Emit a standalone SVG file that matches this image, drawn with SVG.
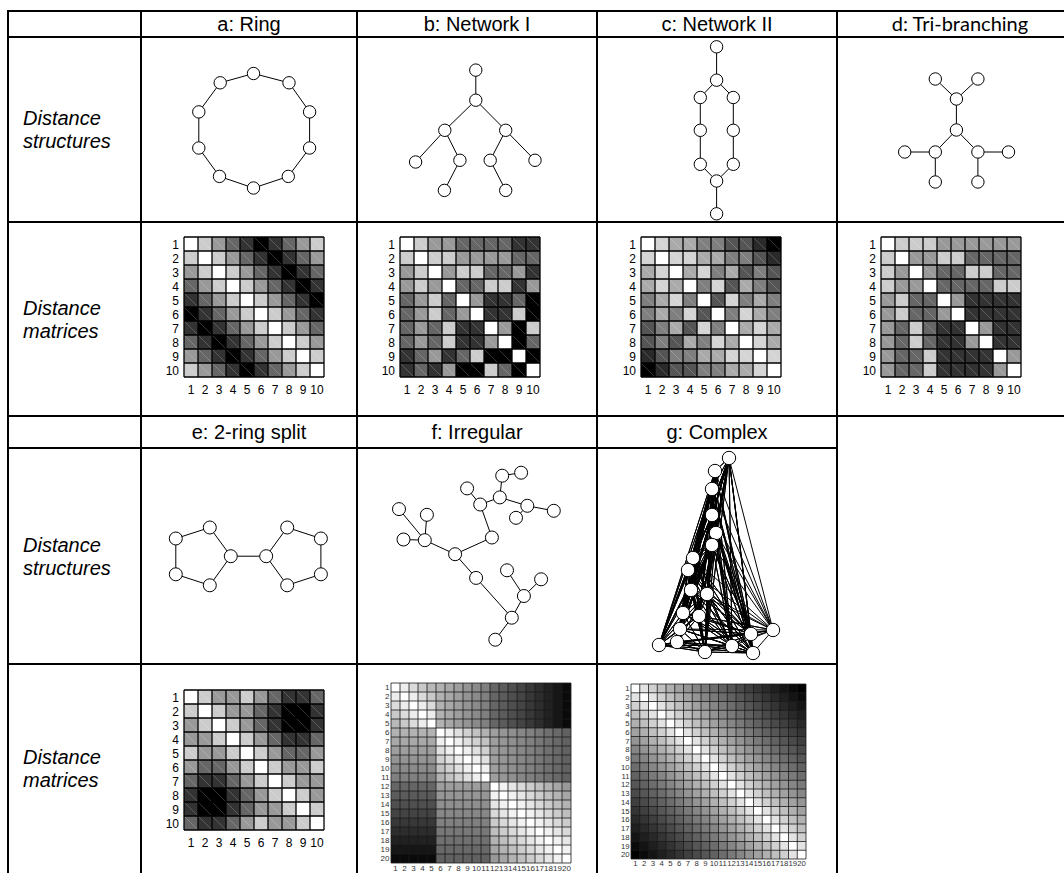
<svg xmlns="http://www.w3.org/2000/svg" xmlns:xlink="http://www.w3.org/1999/xlink" width="1064" height="873" viewBox="0 0 1064 873">
<style>
.t{font-family:"Liberation Sans",Arial,sans-serif}
.hd{font-size:20px;text-anchor:middle}
.cal{font-family:Lato,"Liberation Sans",sans-serif;font-size:20px;text-anchor:middle}
.rl{font-size:20px;font-style:italic}
.ml{font-size:12px}
.ms{font-size:8px;fill:#333}
.ln{stroke:#000;stroke-width:2;fill:none}
.ed{stroke:#000;stroke-width:1;fill:none;stroke-linejoin:round}
.nd{fill:#fff;stroke:#000;stroke-width:1}
</style>
<defs>
<path id="grid10" vector-effect="non-scaling-stroke" d="M0 0H10M0 1H10M0 2H10M0 3H10M0 4H10M0 5H10M0 6H10M0 7H10M0 8H10M0 9H10M0 10H10M0 0V10M1 0V10M2 0V10M3 0V10M4 0V10M5 0V10M6 0V10M7 0V10M8 0V10M9 0V10M10 0V10"/>
<path id="seam10" vector-effect="non-scaling-stroke" d="M1 0L10 9M2 0L10 8M3 0L10 7M4 0L10 6M5 0L10 5M6 0L10 4M7 0L10 3M8 0L10 2M9 0L10 1M0 1L9 10M0 2L8 10M0 3L7 10M0 4L6 10M0 5L5 10M0 6L4 10M0 7L3 10M0 8L2 10M0 9L1 10"/>
<path id="grid20" vector-effect="non-scaling-stroke" d="M0 0H20M0 1H20M0 2H20M0 3H20M0 4H20M0 5H20M0 6H20M0 7H20M0 8H20M0 9H20M0 10H20M0 11H20M0 12H20M0 13H20M0 14H20M0 15H20M0 16H20M0 17H20M0 18H20M0 19H20M0 20H20M0 0V20M1 0V20M2 0V20M3 0V20M4 0V20M5 0V20M6 0V20M7 0V20M8 0V20M9 0V20M10 0V20M11 0V20M12 0V20M13 0V20M14 0V20M15 0V20M16 0V20M17 0V20M18 0V20M19 0V20M20 0V20"/>
<path id="st" d="M0 0H20V20h-1v-1h-1v-1h-1v-1h-1v-1h-1v-1h-1v-1h-1v-1h-1v-1h-1v-1h-1v-1h-1v-1h-1v-1h-1v-1h-1v-1h-1v-1h-1v-1h-1v-1h-1v-1h-1v-1h-1v-1z"/>
<clipPath id="cA"><rect width="5" height="5"/></clipPath>
<clipPath id="cB"><rect x="5" y="5" width="6" height="6"/></clipPath>
<clipPath id="cC"><rect x="11" y="11" width="9" height="9"/></clipPath>
<clipPath id="cG"><rect width="20" height="20"/></clipPath>
<g id="lab10" class="t ml">
<text text-anchor="end"><tspan x="-5" y="11.5">1</tspan><tspan x="-5" y="25.5">2</tspan><tspan x="-5" y="39.5">3</tspan><tspan x="-5" y="53.5">4</tspan><tspan x="-5" y="67.5">5</tspan><tspan x="-5" y="81.5">6</tspan><tspan x="-5" y="95.5">7</tspan><tspan x="-5" y="109.5">8</tspan><tspan x="-5" y="123.5">9</tspan><tspan x="-5" y="137.5">10</tspan></text>
<text text-anchor="middle" y="157"><tspan x="7">1</tspan><tspan x="21">2</tspan><tspan x="35">3</tspan><tspan x="49">4</tspan><tspan x="63">5</tspan><tspan x="77">6</tspan><tspan x="91">7</tspan><tspan x="105">8</tspan><tspan x="119">9</tspan><tspan x="133">10</tspan></text>
</g>
<g id="lab20" class="t ms">
<text text-anchor="end"><tspan x="-1.5" y="7.4">1</tspan><tspan x="-1.5" y="16.4">2</tspan><tspan x="-1.5" y="25.4">3</tspan><tspan x="-1.5" y="34.4">4</tspan><tspan x="-1.5" y="43.4">5</tspan><tspan x="-1.5" y="52.4">6</tspan><tspan x="-1.5" y="61.4">7</tspan><tspan x="-1.5" y="70.4">8</tspan><tspan x="-1.5" y="79.4">9</tspan><tspan x="-1.5" y="88.4">10</tspan><tspan x="-1.5" y="97.4">11</tspan><tspan x="-1.5" y="106.4">12</tspan><tspan x="-1.5" y="115.4">13</tspan><tspan x="-1.5" y="124.4">14</tspan><tspan x="-1.5" y="133.4">15</tspan><tspan x="-1.5" y="142.4">16</tspan><tspan x="-1.5" y="151.4">17</tspan><tspan x="-1.5" y="160.4">18</tspan><tspan x="-1.5" y="169.4">19</tspan><tspan x="-1.5" y="178.4">20</tspan></text>
<text text-anchor="middle" y="187.5"><tspan x="4.5">1</tspan><tspan x="13.5">2</tspan><tspan x="22.5">3</tspan><tspan x="31.5">4</tspan><tspan x="40.5">5</tspan><tspan x="49.5">6</tspan><tspan x="58.5">7</tspan><tspan x="67.5">8</tspan><tspan x="76.5">9</tspan><tspan x="85.5">10</tspan><tspan x="94.5">11</tspan><tspan x="103.5">12</tspan><tspan x="112.5">13</tspan><tspan x="121.5">14</tspan><tspan x="130.5">15</tspan><tspan x="139.5">16</tspan><tspan x="148.5">17</tspan><tspan x="157.5">18</tspan><tspan x="166.5">19</tspan><tspan x="175.5">20</tspan></text>
</g>
</defs>
<rect width="1064" height="873" fill="#fff"/>
<g id="table">
<path class="ln" d="M8 11H1070M8 37H1070M8 222H1070M8 416H1070M8 448H837M8 664H837M8 10V873M141 11V873M357 11V873M597 11V873M837 11V873"/>
</g>
<g id="headers" class="t">
<text class="hd" x="249" y="31">a: Ring</text>
<text class="hd" x="477" y="31">b: Network I</text>
<text class="hd" x="717" y="31">c: Network II</text>
<text class="cal" x="960" y="31">d: Tri-branching</text>
<text class="hd" x="249" y="439">e: 2-ring split</text>
<text class="hd" x="477" y="439">f: Irregular</text>
<text class="hd" x="717" y="439">g: Complex</text>
</g>
<g id="rowlabels" class="t rl">
<text><tspan x="23" y="125">Distance</tspan><tspan x="23" y="148">structures</tspan></text>
<text><tspan x="23" y="315">Distance</tspan><tspan x="23" y="338">matrices</tspan></text>
<text><tspan x="23" y="552">Distance</tspan><tspan x="23" y="575">structures</tspan></text>
<text><tspan x="23" y="764">Distance</tspan><tspan x="23" y="787">matrices</tspan></text>
</g>
<g id="struct-a">
<g class="connectors"><path class="ed" d="M253.5 73.5L289 82.8L309.6 111.9L309.6 148L288.3 176.4L253.5 188L219.5 176.4L198.8 148L198.8 111.9L220.2 82.8Z"/></g>
<g class="nd"><circle cx="253.5" cy="73.5" r="6.2"/><circle cx="289" cy="82.8" r="6.2"/><circle cx="309.6" cy="111.9" r="6.2"/><circle cx="309.6" cy="148" r="6.2"/><circle cx="288.3" cy="176.4" r="6.2"/><circle cx="253.5" cy="188" r="6.2"/><circle cx="219.5" cy="176.4" r="6.2"/><circle cx="198.8" cy="148" r="6.2"/><circle cx="198.8" cy="111.9" r="6.2"/><circle cx="220.2" cy="82.8" r="6.2"/></g>
</g>
<g id="struct-b">
<g class="connectors"><path class="ed" d="M475.8 70.1L475.8 100.2M475.8 100.2L444.8 130.3M475.8 100.2L505.7 130.3M444.8 130.3L415.6 162M444.8 130.3L459.9 160.3L444.4 190.4M505.7 130.3L490.2 160.3L505.7 190.4M505.7 130.3L535 160.3"/></g>
<g class="nd"><circle cx="475.8" cy="70.1" r="6.2"/><circle cx="475.8" cy="100.2" r="6.2"/><circle cx="444.8" cy="130.3" r="6.2"/><circle cx="505.7" cy="130.3" r="6.2"/><circle cx="415.6" cy="162" r="6.2"/><circle cx="459.9" cy="160.3" r="6.2"/><circle cx="444.4" cy="190.4" r="6.2"/><circle cx="490.2" cy="160.3" r="6.2"/><circle cx="505.7" cy="190.4" r="6.2"/><circle cx="535" cy="160.3" r="6.2"/></g>
</g>
<g id="struct-c">
<g class="connectors"><path class="ed" d="M716.6 46.8L716.6 80.2L700.3 97.5L700.3 130.3L700.3 164.3L716.6 181L733.3 164.3L733.3 130.3L733.3 97.5L716.6 80.2M716.6 181L716.6 213.8"/></g>
<g class="nd"><circle cx="716.6" cy="46.8" r="6.2"/><circle cx="716.6" cy="80.2" r="6.2"/><circle cx="700.3" cy="97.5" r="6.2"/><circle cx="733.3" cy="97.5" r="6.2"/><circle cx="700.3" cy="130.3" r="6.2"/><circle cx="733.3" cy="130.3" r="6.2"/><circle cx="700.3" cy="164.3" r="6.2"/><circle cx="733.3" cy="164.3" r="6.2"/><circle cx="716.6" cy="181" r="6.2"/><circle cx="716.6" cy="213.8" r="6.2"/></g>
</g>
<g id="struct-d">
<g class="connectors"><path class="ed" d="M935.3 79L956.4 99L977.9 79M956.4 99L956.4 130L935.3 152L904.7 152M935.3 152L935.3 182M956.4 130L977.9 152L1008.5 152M977.9 152L977.9 182"/></g>
<g class="nd"><circle cx="935.3" cy="79" r="6.2"/><circle cx="977.9" cy="79" r="6.2"/><circle cx="956.4" cy="99" r="6.2"/><circle cx="956.4" cy="130" r="6.2"/><circle cx="935.3" cy="152" r="6.2"/><circle cx="977.9" cy="152" r="6.2"/><circle cx="904.7" cy="152" r="6.2"/><circle cx="1008.5" cy="152" r="6.2"/><circle cx="935.3" cy="182" r="6.2"/><circle cx="977.9" cy="182" r="6.2"/></g>
</g>
<g id="struct-e">
<g class="connectors"><path class="ed" d="M175.8 538.5L209.8 527.5L230.8 556.2L209.8 585.3L175.8 574.3ZM230.8 556.2L266.2 556.2M266.2 556.2L287.2 527.5L320.9 538.5L320.9 574.3L287.2 585.3Z"/></g>
<g class="nd"><circle cx="175.8" cy="538.5" r="6.5"/><circle cx="209.8" cy="527.5" r="6.5"/><circle cx="230.8" cy="556.2" r="6.5"/><circle cx="175.8" cy="574.3" r="6.5"/><circle cx="209.8" cy="585.3" r="6.5"/><circle cx="266.2" cy="556.2" r="6.5"/><circle cx="287.2" cy="527.5" r="6.5"/><circle cx="320.9" cy="538.5" r="6.5"/><circle cx="320.9" cy="574.3" r="6.5"/><circle cx="287.2" cy="585.3" r="6.5"/></g>
</g>
<g id="struct-f">
<g class="connectors"><path class="ed" d="M399 509.1L424.8 540.2M426.9 514.8L424.8 540.2M403.5 539.5L424.8 540.2L455.1 554.2L491.9 537.5L480.2 504.5L467.1 488.4M480.2 504.5L499.8 497.4L502.2 475.7L521.1 472.7M499.8 497.4L527.3 505.8L553.8 510.8M527.3 505.8L516 517.8M455.1 554.2L476.1 577.9L511.8 617.7L495.3 639.7M511.8 617.7L523.9 596L507 570.3M523.9 596L541.1 579.3"/></g>
<g class="nd"><circle cx="399" cy="509.1" r="6.5"/><circle cx="426.9" cy="514.8" r="6.5"/><circle cx="403.5" cy="539.5" r="6.5"/><circle cx="424.8" cy="540.2" r="6.5"/><circle cx="455.1" cy="554.2" r="6.5"/><circle cx="491.9" cy="537.5" r="6.5"/><circle cx="480.2" cy="504.5" r="6.5"/><circle cx="467.1" cy="488.4" r="6.5"/><circle cx="499.8" cy="497.4" r="6.5"/><circle cx="502.2" cy="475.7" r="6.5"/><circle cx="521.1" cy="472.7" r="6.5"/><circle cx="527.3" cy="505.8" r="6.5"/><circle cx="553.8" cy="510.8" r="6.5"/><circle cx="516" cy="517.8" r="6.5"/><circle cx="476.1" cy="577.9" r="6.5"/><circle cx="511.8" cy="617.7" r="6.5"/><circle cx="495.3" cy="639.7" r="6.5"/><circle cx="523.9" cy="596" r="6.5"/><circle cx="507" cy="570.3" r="6.5"/><circle cx="541.1" cy="579.3" r="6.5"/></g>
</g>
<g id="struct-g">
<g class="connectors"><path class="ed" d="M729 458L715 471L729 458L712 489L729 458L712 515L729 458L716 533L729 458L712 545L729 458L693 558L729 458L688 570L729 458L691 590L729 458L707 594L729 458L683 613L729 458L699 616L729 458L680 629L729 458L659 645L729 458L677 642L729 458L705 652L729 458L732 646L729 458L753 653L729 458L751 634L729 458L773 630M715 471L712 489L715 471L712 515L715 471L716 533L715 471L712 545L715 471L693 558L715 471L688 570L715 471L691 590L715 471L707 594L715 471L683 613L715 471L699 616L715 471L680 629L715 471L659 645L715 471L677 642L715 471L705 652L715 471L732 646L715 471L753 653L715 471L751 634L715 471L773 630M712 489L712 515L712 489L716 533L712 489L712 545L712 489L693 558L712 489L688 570L712 489L691 590L712 489L707 594L712 489L683 613L712 489L699 616L712 489L680 629L712 489L659 645L712 489L677 642L712 489L705 652L712 489L732 646L712 489L753 653L712 489L751 634L712 489L773 630M712 515L716 533L712 515L712 545L712 515L693 558L712 515L688 570L712 515L691 590L712 515L707 594L712 515L683 613L712 515L699 616L712 515L680 629L712 515L659 645L712 515L677 642L712 515L705 652L712 515L732 646L712 515L753 653L712 515L751 634L712 515L773 630M716 533L712 545L716 533L693 558L716 533L688 570L716 533L691 590L716 533L707 594L716 533L683 613L716 533L699 616L716 533L680 629L716 533L659 645L716 533L677 642L716 533L705 652L716 533L732 646L716 533L753 653L716 533L751 634L716 533L773 630M712 545L693 558L712 545L688 570L712 545L691 590L712 545L707 594L712 545L683 613L712 545L699 616L712 545L680 629L712 545L659 645L712 545L677 642L712 545L705 652L712 545L732 646L712 545L753 653L712 545L751 634L712 545L773 630M693 558L688 570L693 558L691 590L693 558L707 594L693 558L683 613L693 558L699 616L693 558L680 629L693 558L659 645L693 558L677 642L693 558L705 652L693 558L732 646L693 558L753 653L693 558L751 634L693 558L773 630M688 570L691 590L688 570L707 594L688 570L683 613L688 570L699 616L688 570L680 629L688 570L659 645L688 570L677 642L688 570L705 652L688 570L732 646L688 570L753 653L688 570L751 634L688 570L773 630M691 590L707 594L691 590L683 613L691 590L699 616L691 590L680 629L691 590L659 645L691 590L677 642L691 590L705 652L691 590L732 646L691 590L753 653L691 590L751 634L691 590L773 630M707 594L683 613L707 594L699 616L707 594L680 629L707 594L659 645L707 594L677 642L707 594L705 652L707 594L732 646L707 594L753 653L707 594L751 634L707 594L773 630M683 613L699 616L683 613L680 629L683 613L659 645L683 613L677 642L683 613L705 652L683 613L732 646L683 613L753 653L683 613L751 634L683 613L773 630M699 616L680 629L699 616L659 645L699 616L677 642L699 616L705 652L699 616L732 646L699 616L753 653L699 616L751 634L699 616L773 630M680 629L659 645L680 629L677 642L680 629L705 652L680 629L732 646L680 629L753 653L680 629L751 634L680 629L773 630M659 645L677 642L659 645L705 652L659 645L732 646L659 645L753 653L659 645L751 634L659 645L773 630M677 642L705 652L677 642L732 646L677 642L753 653L677 642L751 634L677 642L773 630M705 652L732 646L705 652L753 653L705 652L751 634L705 652L773 630M732 646L753 653L732 646L751 634L732 646L773 630M753 653L751 634L753 653L773 630M751 634L773 630"/></g>
<g class="nd"><circle cx="729" cy="458" r="6.7"/><circle cx="715" cy="471" r="6.7"/><circle cx="712" cy="489" r="6.7"/><circle cx="712" cy="515" r="6.7"/><circle cx="716" cy="533" r="6.7"/><circle cx="712" cy="545" r="6.7"/><circle cx="693" cy="558" r="6.7"/><circle cx="688" cy="570" r="6.7"/><circle cx="691" cy="590" r="6.7"/><circle cx="707" cy="594" r="6.7"/><circle cx="683" cy="613" r="6.7"/><circle cx="699" cy="616" r="6.7"/><circle cx="680" cy="629" r="6.7"/><circle cx="659" cy="645" r="6.7"/><circle cx="677" cy="642" r="6.7"/><circle cx="705" cy="652" r="6.7"/><circle cx="732" cy="646" r="6.7"/><circle cx="753" cy="653" r="6.7"/><circle cx="751" cy="634" r="6.7"/><circle cx="773" cy="630" r="6.7"/></g>
</g>
<g id="matrix-a">
<g transform="translate(184 237) scale(14)" fill="none" stroke-width="1">
<rect width="10" height="10" fill="#fff" stroke="none"/>
<path stroke="#ccc" d="M1 .5h1M9 .5h1M0 1.5h1M2 1.5h1M1 2.5h1M3 2.5h1M2 3.5h1M4 3.5h1M3 4.5h1M5 4.5h1M4 5.5h1M6 5.5h1M5 6.5h1M7 6.5h1M6 7.5h1M8 7.5h1M7 8.5h1M9 8.5h1M0 9.5h1M8 9.5h1"/>
<path stroke="#999" d="M2 .5h1M8 .5h1M3 1.5h1M9 1.5h1M0 2.5h1M4 2.5h1M1 3.5h1M5 3.5h1M2 4.5h1M6 4.5h1M3 5.5h1M7 5.5h1M4 6.5h1M8 6.5h1M5 7.5h1M9 7.5h1M0 8.5h1M6 8.5h1M1 9.5h1M7 9.5h1"/>
<path stroke="#666" d="M3 .5h1M7 .5h1M4 1.5h1M8 1.5h1M5 2.5h1M9 2.5h1M0 3.5h1M6 3.5h1M1 4.5h1M7 4.5h1M2 5.5h1M8 5.5h1M3 6.5h1M9 6.5h1M0 7.5h1M4 7.5h1M1 8.5h1M5 8.5h1M2 9.5h1M6 9.5h1"/>
<path stroke="#333" d="M4 .5h1M6 .5h1M5 1.5h1M7 1.5h1M6 2.5h1M8 2.5h1M7 3.5h1M9 3.5h1M0 4.5h1M8 4.5h1M1 5.5h1M9 5.5h1M0 6.5h1M2 6.5h1M1 7.5h1M3 7.5h1M2 8.5h1M4 8.5h1M3 9.5h1M5 9.5h1"/>
<path stroke="#000" d="M5 .5h1M6 1.5h1M7 2.5h1M8 3.5h1M9 4.5h1M0 5.5h1M1 6.5h1M2 7.5h1M3 8.5h1M4 9.5h1"/>
<use href="#seam10" stroke="#fff" stroke-opacity=".2" stroke-width="1"/>
<use href="#grid10" stroke="#000" stroke-width="1.3"/>
</g>
<use href="#lab10" x="184" y="237"/>
</g>
<g id="matrix-b">
<g transform="translate(400 237) scale(14)" fill="none" stroke-width="1">
<rect width="10" height="10" fill="#fff" stroke="none"/>
<path stroke="#ccc" d="M1 .5h1M0 1.5h1M2 1.5h2M1 2.5h1M4 2.5h2M1 3.5h1M6 3.5h2M2 4.5h1M2 5.5h1M8 5.5h1M3 6.5h1M9 6.5h1M3 7.5h1M5 8.5h1M6 9.5h1"/>
<path stroke="#999" d="M2 .5h2M4 1.5h4M0 2.5h1M3 2.5h1M8 2.5h1M0 3.5h1M2 3.5h1M9 3.5h1M1 4.5h1M5 4.5h1M1 5.5h1M4 5.5h1M1 6.5h1M7 6.5h1M1 7.5h1M6 7.5h1M2 8.5h1M3 9.5h1"/>
<path stroke="#666" d="M4 .5h4M8 1.5h2M6 2.5h2M4 3.5h2M0 4.5h1M3 4.5h1M8 4.5h1M0 5.5h1M3 5.5h1M0 6.5h1M2 6.5h1M0 7.5h1M2 7.5h1M9 7.5h1M1 8.5h1M4 8.5h1M1 9.5h1M7 9.5h1"/>
<path stroke="#333" d="M8 .5h2M9 2.5h1M8 3.5h1M6 4.5h2M6 5.5h2M4 6.5h2M4 7.5h2M0 8.5h1M3 8.5h1M0 9.5h1M2 9.5h1"/>
<path stroke="#000" d="M9 4.5h1M9 5.5h1M8 6.5h1M8 7.5h1M6 8.5h2M9 8.5h1M4 9.5h2M8 9.5h1"/>
<use href="#seam10" stroke="#fff" stroke-opacity=".2" stroke-width="1"/>
<use href="#grid10" stroke="#000" stroke-width="1.3"/>
</g>
<use href="#lab10" x="400" y="237"/>
</g>
<g id="matrix-c">
<g transform="translate(641 237) scale(14)" fill="none" stroke-width="1">
<rect width="10" height="10" fill="#fff" stroke="none"/>
<path stroke="#d4d4d4" d="M1 .5h1M0 1.5h1M2 1.5h2M1 2.5h1M4 2.5h1M1 3.5h1M5 3.5h1M2 4.5h1M6 4.5h1M3 5.5h1M7 5.5h1M4 6.5h1M8 6.5h1M5 7.5h1M8 7.5h1M6 8.5h2M9 8.5h1M8 9.5h1"/>
<path stroke="#aaa" d="M2 .5h2M4 1.5h2M0 2.5h1M3 2.5h1M6 2.5h1M0 3.5h1M2 3.5h1M7 3.5h1M1 4.5h1M8 4.5h1M1 5.5h1M8 5.5h1M2 6.5h1M7 6.5h1M9 6.5h1M3 7.5h1M6 7.5h1M9 7.5h1M4 8.5h2M6 9.5h2"/>
<path stroke="#7f7f7f" d="M4 .5h2M6 1.5h2M5 2.5h1M8 2.5h1M4 3.5h1M8 3.5h1M0 4.5h1M3 4.5h1M7 4.5h1M9 4.5h1M0 5.5h1M2 5.5h1M6 5.5h1M9 5.5h1M1 6.5h1M5 6.5h1M1 7.5h1M4 7.5h1M2 8.5h2M4 9.5h2"/>
<path stroke="#555" d="M6 .5h2M8 1.5h1M7 2.5h1M9 2.5h1M6 3.5h1M9 3.5h1M5 4.5h1M4 5.5h1M0 6.5h1M3 6.5h1M0 7.5h1M2 7.5h1M1 8.5h1M2 9.5h2"/>
<path stroke="#2a2a2a" d="M8 .5h1M9 1.5h1M0 8.5h1M1 9.5h1"/>
<path stroke="#000" d="M9 .5h1M0 9.5h1"/>
<use href="#seam10" stroke="#fff" stroke-opacity=".2" stroke-width="1"/>
<use href="#grid10" stroke="#000" stroke-width="1.3"/>
</g>
<use href="#lab10" x="641" y="237"/>
</g>
<g id="matrix-d">
<g transform="translate(881 237) scale(14)" fill="none" stroke-width="1">
<rect width="10" height="10" fill="#fff" stroke="none"/>
<path stroke="#ccc" d="M1 .5h3M0 1.5h1M4 1.5h2M0 2.5h1M6 2.5h2M0 3.5h1M8 3.5h2M1 4.5h1M1 5.5h1M2 6.5h1M2 7.5h1M3 8.5h1M3 9.5h1"/>
<path stroke="#999" d="M4 .5h6M2 1.5h2M1 2.5h1M3 2.5h1M1 3.5h2M0 4.5h1M5 4.5h1M0 5.5h1M4 5.5h1M0 6.5h1M7 6.5h1M0 7.5h1M6 7.5h1M0 8.5h1M9 8.5h1M0 9.5h1M8 9.5h1"/>
<path stroke="#666" d="M6 1.5h4M4 2.5h2M8 2.5h2M4 3.5h4M2 4.5h2M2 5.5h2M1 6.5h1M3 6.5h1M1 7.5h1M3 7.5h1M1 8.5h2M1 9.5h2"/>
<path stroke="#333" d="M6 4.5h4M6 5.5h4M4 6.5h2M8 6.5h2M4 7.5h2M8 7.5h2M4 8.5h4M4 9.5h4"/>
<use href="#seam10" stroke="#fff" stroke-opacity=".2" stroke-width="1"/>
<use href="#grid10" stroke="#000" stroke-width="1.3"/>
</g>
<use href="#lab10" x="881" y="237"/>
</g>
<g id="matrix-e">
<g transform="translate(184 690) scale(14)" fill="none" stroke-width="1">
<rect width="10" height="10" fill="#fff" stroke="none"/>
<path stroke="#ccc" d="M1 .5h1M4 .5h1M0 1.5h1M2 1.5h1M1 2.5h1M3 2.5h1M2 3.5h1M4 3.5h1M0 4.5h1M3 4.5h1M5 4.5h1M4 5.5h1M6 5.5h1M9 5.5h1M5 6.5h1M7 6.5h1M6 7.5h1M8 7.5h1M7 8.5h1M9 8.5h1M5 9.5h1M8 9.5h1"/>
<path stroke="#999" d="M2 .5h2M5 .5h1M3 1.5h2M0 2.5h1M4 2.5h1M0 3.5h2M5 3.5h1M1 4.5h2M6 4.5h1M9 4.5h1M0 5.5h1M3 5.5h1M7 5.5h2M4 6.5h1M8 6.5h2M5 7.5h1M9 7.5h1M5 8.5h2M4 9.5h1M6 9.5h2"/>
<path stroke="#666" d="M6 .5h1M9 .5h1M5 1.5h1M5 2.5h1M6 3.5h1M9 3.5h1M7 4.5h2M1 5.5h2M0 6.5h1M3 6.5h1M4 7.5h1M4 8.5h1M0 9.5h1M3 9.5h1"/>
<path stroke="#333" d="M7 .5h2M6 1.5h1M9 1.5h1M6 2.5h1M9 2.5h1M7 3.5h2M1 6.5h2M0 7.5h1M3 7.5h1M0 8.5h1M3 8.5h1M1 9.5h2"/>
<path stroke="#000" d="M7 1.5h2M7 2.5h2M1 7.5h2M1 8.5h2"/>
<use href="#seam10" stroke="#fff" stroke-opacity=".2" stroke-width="1"/>
<use href="#grid10" stroke="#000" stroke-width="1.3"/>
</g>
<use href="#lab10" x="184" y="690"/>
</g>
<g id="matrix-f">
<g transform="translate(391 683) scale(9)">
<rect width="20" height="20" fill="#fff"/>
<g id="fu">
<g clip-path="url(#cA)"><use href="#st" x="1" fill="#ededed"/><use href="#st" x="2" fill="#dbdbdb"/><use href="#st" x="3" fill="#c9c9c9"/><use href="#st" x="4" fill="#b8b8b8"/></g>
<g clip-path="url(#cB)"><use href="#st" x="1" fill="#f0f0f0"/><use href="#st" x="2" fill="#e0e0e0"/><use href="#st" x="3" fill="#d1d1d1"/><use href="#st" x="4" fill="#c2c2c2"/><use href="#st" x="5" fill="#b2b2b2"/></g>
<g clip-path="url(#cC)"><use href="#st" x="1" fill="#f2f2f2"/><use href="#st" x="2" fill="#e6e6e6"/><use href="#st" x="3" fill="#d9d9d9"/><use href="#st" x="4" fill="#ccc"/><use href="#st" x="5" fill="#bfbfbf"/><use href="#st" x="6" fill="#b3b3b3"/><use href="#st" x="7" fill="#a6a6a6"/><use href="#st" x="8" fill="#999"/></g>
<rect x="5" width="1" height="5" fill="#b2b2b2"/><rect x="6" width="1" height="5" fill="#a8a8a8"/><rect x="7" width="1" height="5" fill="#9e9e9e"/><rect x="8" width="1" height="5" fill="#949494"/><rect x="9" width="1" height="5" fill="#8a8a8a"/><rect x="10" width="1" height="5" fill="#808080"/>
<rect x="11" width="1" height="5" fill="#666"/><rect x="12" width="1" height="5" fill="#5b5b5b"/><rect x="13" width="1" height="5" fill="#4f4f4f"/><rect x="14" width="1" height="5" fill="#444"/><rect x="15" width="1" height="5" fill="#383838"/><rect x="16" width="1" height="5" fill="#2d2d2d"/><rect x="17" width="1" height="5" fill="#212121"/><rect x="18" width="1" height="5" fill="#161616"/><rect x="19" width="1" height="5" fill="#0a0a0a"/>
<rect x="11" y="5" width="1" height="6" fill="#9e9e9e"/><rect x="12" y="5" width="1" height="6" fill="#969696"/><rect x="13" y="5" width="1" height="6" fill="#8f8f8f"/><rect x="14" y="5" width="1" height="6" fill="#878787"/><rect x="15" y="5" width="1" height="6" fill="#808080"/><rect x="16" y="5" width="1" height="6" fill="#787878"/><rect x="17" y="5" width="1" height="6" fill="#707070"/><rect x="18" y="5" width="1" height="6" fill="#696969"/><rect x="19" y="5" width="1" height="6" fill="#616161"/>
</g>
<use href="#fu" transform="matrix(0 1 1 0 0 0)"/>
<use href="#grid20" fill="none" stroke="#1a1a1a" stroke-width=".8"/>
</g>
<use href="#lab20" transform="translate(391 683)"/>
</g>
<g id="matrix-g">
<g transform="translate(631 684) scale(8.75)">
<rect width="20" height="20" fill="#fff"/>
<g id="gu" clip-path="url(#cG)">
<use href="#st" x="1" fill="#e3e3e3"/><use href="#st" x="2" fill="#d0d0d0"/><use href="#st" x="3" fill="#bfbfbf"/><use href="#st" x="4" fill="#b0b0b0"/><use href="#st" x="5" fill="#a1a1a1"/><use href="#st" x="6" fill="#949494"/><use href="#st" x="7" fill="#868686"/><use href="#st" x="8" fill="#7a7a7a"/><use href="#st" x="9" fill="#6d6d6d"/><use href="#st" x="10" fill="#616161"/><use href="#st" x="11" fill="#565656"/><use href="#st" x="12" fill="#4a4a4a"/><use href="#st" x="13" fill="#3f3f3f"/><use href="#st" x="14" fill="#343434"/><use href="#st" x="15" fill="#292929"/><use href="#st" x="16" fill="#1f1f1f"/><use href="#st" x="17" fill="#141414"/><use href="#st" x="18" fill="#0a0a0a"/><use href="#st" x="19" fill="#000"/>
</g>
<use href="#gu" transform="matrix(0 1 1 0 0 0)"/>
<use href="#grid20" fill="none" stroke="#1a1a1a" stroke-width=".8"/>
</g>
<use href="#lab20" transform="translate(631 684) scale(.9722)"/>
</g>
</svg>
